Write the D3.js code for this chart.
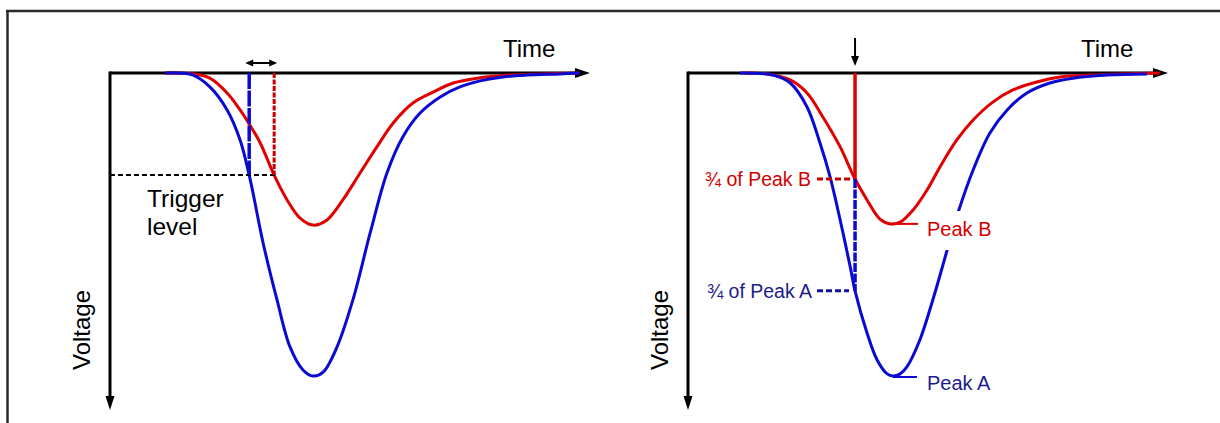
<!DOCTYPE html>
<html><head><meta charset="utf-8">
<script src="https://cdn.jsdelivr.net/npm/d3@7"></script>
<style>html,body{margin:0;padding:0;background:#fff;}svg{display:block;}text{font-family:"Liberation Sans",Arial,sans-serif;}</style>
</head><body>
<svg id="chart" width="1220" height="423"></svg>
<script>
// ---- data (time in arbitrary units 0..100, voltage as fraction of Peak A, negative-going) ----
const leftBlueTime  = [11.5,17.3,20.8,24.4,27.1,29.0,29.8,31.9,34.8,37.5,40.2,42.3,44.4,47.3,50.6,54.2,57.7,61.0,64.6,68.8,72.9,77.1,81.9,86.9,93.8,97.9];
const leftBlueVolt  = [0,-0.007,-0.046,-0.122,-0.221,-0.337,-0.396,-0.561,-0.749,-0.904,-0.980,-1.0,-0.987,-0.904,-0.749,-0.528,-0.330,-0.211,-0.132,-0.079,-0.046,-0.026,-0.013,-0.007,-0.003,0];
const leftRedTime   = [11.5,17.3,20.8,24.4,27.1,29.0,31.3,34.2,36.9,39.6,42.3,45.2,48.5,52.1,55.6,59.0,63.1,67.3,71.5,76.5,83.3,90.2,97.9];
const leftRedVolt   = [0,-0.003,-0.017,-0.066,-0.122,-0.168,-0.231,-0.337,-0.419,-0.479,-0.502,-0.485,-0.419,-0.330,-0.244,-0.165,-0.099,-0.063,-0.033,-0.017,-0.007,-0.003,0];
const rightBlueTime = [10.8,17.7,21.3,24.8,27.5,29.6,31.7,33.8,34.8,37.3,39.4,41.5,42.7,44.2,45.6,48.3,51.0,54.0,56.3,59.4,62.9,66.5,70.6,75.4,80.2,87.3,95.6];
const rightBlueVolt = [0,-0.007,-0.033,-0.112,-0.231,-0.343,-0.485,-0.640,-0.719,-0.858,-0.947,-0.993,-1.0,-0.993,-0.970,-0.881,-0.749,-0.584,-0.459,-0.320,-0.198,-0.122,-0.066,-0.033,-0.017,-0.007,-0.003];
const rightRedTime  = [11.9,16.5,21.3,24.8,28.1,31.7,34.8,37.3,40.0,42.1,44.2,46.9,49.8,52.5,56.0,59.4,63.5,67.7,71.9,77.5,83.8,90.6,98.3];
const rightRedVolt  = [0,-0.003,-0.023,-0.066,-0.145,-0.244,-0.350,-0.419,-0.482,-0.498,-0.492,-0.452,-0.386,-0.310,-0.221,-0.155,-0.096,-0.056,-0.033,-0.013,-0.007,-0.003,0];
// annotation values
const triggerLevel = -0.337;
const triggerTimes = [29.0, 34.2];          // blue, red crossing times
const cfdTime = 34.8;                       // constant-fraction crossing time (right)
const fractionLevels = [-0.350, -0.719];    // 3/4 of Peak B, 3/4 of Peak A
const peakLevels = [-0.498, -1.0];          // Peak B, Peak A
const peakTimes = [42.1, 42.7];
const axisLabels = ["Time", "Voltage"];
const triggerLabel = ["Trigger", "level"];
const fractionLabels = ["¾ of Peak B", "¾ of Peak A"];
const peakLabels = ["Peak B", "Peak A"];

const BLUE = "#0a0ad2", RED = "#e00000", RED_T = "#d40000", NAVY = "#1c1c8a";

const svg = d3.select("#chart");
const y = d3.scaleLinear().domain([0, -1]).range([73, 376]);
const yAxisEnd = -1.112;
const xL = d3.scaleLinear().domain([0, 100]).range([110, 590]);
const xR = d3.scaleLinear().domain([0, 100]).range([688, 1168]);

// frame
svg.append("line").attr("x1", 6).attr("x2", 1220).attr("y1", 11).attr("y2", 11).attr("stroke", "#2a2a2a").attr("stroke-width", 2.5);
svg.append("line").attr("x1", 7.5).attr("x2", 7.5).attr("y1", 10).attr("y2", 423).attr("stroke", "#2a2a2a").attr("stroke-width", 2.5);

function head(g, tx, ty, dir, len, w, color) {
  let p;
  if (dir === "right") p = [[tx, ty], [tx - len, ty - w / 2], [tx - len, ty + w / 2]];
  else if (dir === "left") p = [[tx, ty], [tx + len, ty - w / 2], [tx + len, ty + w / 2]];
  else p = [[tx, ty], [tx - w / 2, ty - len], [tx + w / 2, ty - len]];
  g.append("path").attr("d", d3.line()(p) + "Z").attr("fill", color || "#000");
}

function panel(x, blueT, blueV, redT, redV) {
  const g = svg.append("g");
  const x0 = x(0), y0 = y(0);
  g.append("line").attr("x1", x0).attr("x2", x(100) - 10).attr("y1", y0).attr("y2", y0).attr("stroke", "#000").attr("stroke-width", 3);
  head(g, x(100), y0, "right", 15, 10);
  g.append("line").attr("x1", x0).attr("x2", x0).attr("y1", y0 - 1.5).attr("y2", y(yAxisEnd) - 10).attr("stroke", "#000").attr("stroke-width", 3);
  head(g, x0, y(yAxisEnd), "down", 14, 9);
  g.append("text").attr("x", x(100) - 87).attr("y", 57).attr("font-size", 24).attr("fill", "#000").text(axisLabels[0]);
  g.append("text").attr("transform", `translate(${x0 - 20},330) rotate(-90)`).attr("text-anchor", "middle").attr("font-size", 24).attr("fill", "#000").text(axisLabels[1]);
  const line = d3.line().x(d => x(d[0])).y(d => Math.max(y(0), y(d[1]))).curve(d3.curveCatmullRom.alpha(0.5));
  g.append("path").attr("d", line(redT.map((t, i) => [t, redV[i]]))).attr("fill", "none").attr("stroke", RED).attr("stroke-width", 3);
  g.append("path").attr("d", line(blueT.map((t, i) => [t, blueV[i]]))).attr("fill", "none").attr("stroke", BLUE).attr("stroke-width", 3);
  return g;
}

// ---- left panel ----
const gL = panel(xL, leftBlueTime, leftBlueVolt, leftRedTime, leftRedVolt);
gL.append("line").attr("x1", xL(0)).attr("x2", xL(triggerTimes[1]) + 3).attr("y1", y(triggerLevel)).attr("y2", y(triggerLevel))
  .attr("stroke", "#000").attr("stroke-width", 2).attr("stroke-dasharray", "5,3");
gL.append("line").attr("x1", xL(triggerTimes[0])).attr("x2", xL(triggerTimes[0])).attr("y1", y(0)).attr("y2", y(triggerLevel))
  .attr("stroke", BLUE).attr("stroke-width", 3.5).attr("stroke-dasharray", "16,1.5");
gL.append("line").attr("x1", xL(triggerTimes[1])).attr("x2", xL(triggerTimes[1])).attr("y1", y(0)).attr("y2", y(triggerLevel))
  .attr("stroke", "#c80000").attr("stroke-width", 3).attr("stroke-dasharray", "5,1.5");
{
  const a = xL(triggerTimes[0]) - 4, b = xL(triggerTimes[1]) + 3, yy = 63;
  gL.append("line").attr("x1", a + 6).attr("x2", b - 6).attr("y1", yy).attr("y2", yy).attr("stroke", "#000").attr("stroke-width", 2);
  head(gL, a, yy, "left", 8, 7);
  head(gL, b, yy, "right", 8, 7);
}
gL.append("text").attr("x", 147).attr("y", 207).attr("font-size", 24.5).text(triggerLabel[0]);
gL.append("text").attr("x", 147).attr("y", 235).attr("font-size", 24.5).text(triggerLabel[1]);

// ---- right panel ----
const gR = panel(xR, rightBlueTime, rightBlueVolt, rightRedTime, rightRedVolt);
const xc = xR(cfdTime);
gR.append("line").attr("x1", xc).attr("x2", xc).attr("y1", y(fractionLevels[0])).attr("y2", y(fractionLevels[1]))
  .attr("stroke", BLUE).attr("stroke-width", 3.5).attr("stroke-dasharray", "9,1.5");
gR.append("line").attr("x1", xc).attr("x2", xc).attr("y1", y(0)).attr("y2", y(fractionLevels[0]))
  .attr("stroke", RED).attr("stroke-width", 3.5);
gR.append("line").attr("x1", xc).attr("x2", xc).attr("y1", 38).attr("y2", 58).attr("stroke", "#000").attr("stroke-width", 2);
head(gR, xc, 66, "down", 10, 8);
gR.append("line").attr("x1", xc - 38).attr("x2", xc - 4).attr("y1", y(fractionLevels[0])).attr("y2", y(fractionLevels[0]))
  .attr("stroke", "#c00000").attr("stroke-width", 3).attr("stroke-dasharray", "6,3");
gR.append("line").attr("x1", xc - 38).attr("x2", xc - 6).attr("y1", y(fractionLevels[1])).attr("y2", y(fractionLevels[1]))
  .attr("stroke", "#10109a").attr("stroke-width", 3).attr("stroke-dasharray", "6,3");
gR.append("text").attr("x", xc - 44).attr("y", y(fractionLevels[0]) + 7).attr("text-anchor", "end").attr("font-size", 19.5).attr("fill", RED_T).text(fractionLabels[0]);
gR.append("text").attr("x", xc - 43).attr("y", y(fractionLevels[1]) + 7).attr("text-anchor", "end").attr("font-size", 19.5).attr("fill", NAVY).text(fractionLabels[1]);
gR.append("rect").attr("x", 922).attr("y", 211).attr("width", 76).attr("height", 39).attr("fill", "#fff");
gR.append("line").attr("x1", xR(peakTimes[0])).attr("x2", xR(peakTimes[0]) + 28).attr("y1", y(peakLevels[0])).attr("y2", y(peakLevels[0])).attr("stroke", RED).attr("stroke-width", 2);
gR.append("line").attr("x1", xR(peakTimes[1])).attr("x2", xR(peakTimes[1]) + 24).attr("y1", y(peakLevels[1]) + 1).attr("y2", y(peakLevels[1]) + 1).attr("stroke", BLUE).attr("stroke-width", 2);
gR.append("text").attr("x", 927).attr("y", y(peakLevels[0]) + 12).attr("font-size", 20).attr("fill", RED_T).text(peakLabels[0]);
gR.append("text").attr("x", 927).attr("y", y(peakLevels[1]) + 14).attr("font-size", 20).attr("fill", NAVY).text(peakLabels[1]);
</script>
</body></html>
